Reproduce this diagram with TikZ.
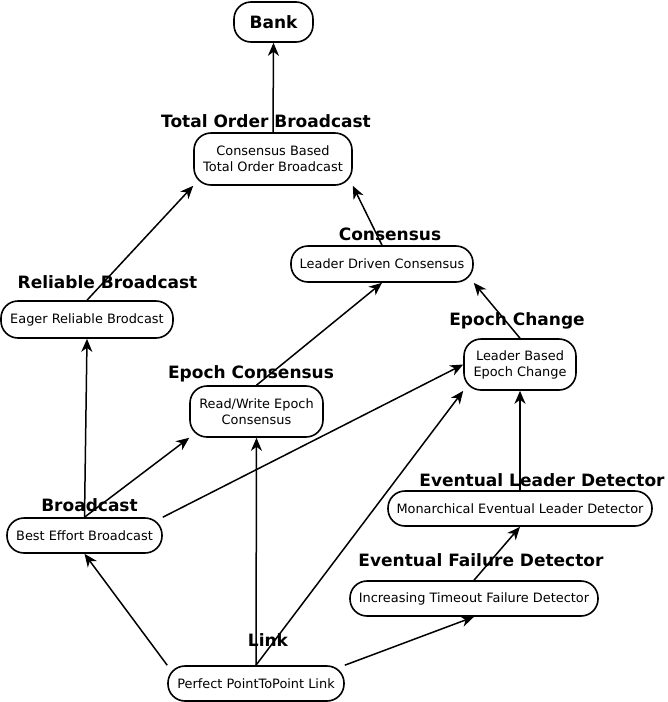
\documentclass[tikz,border=0pt]{standalone}
\usepackage{fontspec}
\setmainfont{DejaVu Sans}
\usetikzlibrary{arrows.meta}
\begin{document}
\begin{tikzpicture}[x=1pt,y=-1pt,
  box/.style={draw,line width=1.6pt,rounded corners=17pt,inner sep=0pt,align=center,
    font=\fontsize{12.9}{16}\selectfont},
  ttl/.style={inner sep=0pt,font=\fontsize{17}{20}\selectfont\bfseries},
  arr/.style={line width=1.5pt,-{Stealth[length=13pt,width=11pt,inset=4pt]}}]
\useasboundingbox (0,0) rectangle (668,702);
% nodes
\node[box,minimum width=79pt,minimum height=40pt,font=\fontsize{17}{20}\selectfont\bfseries] (bank) at (273.5,22) {Bank};
\node[box,minimum width=158pt,minimum height=52pt] (tob) at (273,159) {Consensus Based\\Total Order Broadcast};
\node[box,minimum width=182pt,minimum height=36pt] (ldc) at (382,264) {Leader Driven Consensus};
\node[box,minimum width=172pt,minimum height=37pt] (erb) at (87,319.5) {Eager Reliable Brodcast};
\node[box,minimum width=112pt,minimum height=51pt] (lbec) at (520,364.5) {Leader Based\\Epoch Change};
\node[box,minimum width=133pt,minimum height=51pt] (rwec) at (256.5,411.5) {Read/Write Epoch\\Consensus};
\node[box,minimum width=264pt,minimum height=35pt] (meld) at (520,508.5) {Monarchical Eventual Leader Detector};
\node[box,minimum width=155pt,minimum height=35pt] (beb) at (84.5,535.5) {Best Effort Broadcast};
\node[box,minimum width=248pt,minimum height=35pt] (itfd) at (474,598.5) {Increasing Timeout Failure Detector};
\node[box,minimum width=176pt,minimum height=35pt] (ppl) at (256,683.5) {Perfect PointToPoint Link};
% titles
\node[ttl] (ttob) at (266,121) {Total Order Broadcast};
\node[ttl] (tcons) at (390,234) {Consensus};
\node[ttl] (trb) at (107.5,282) {Reliable Broadcast};
\node[ttl] (tec) at (517,321) {Epoch Change};
\node[ttl] (tepc) at (251,374) {Epoch Consensus};
\node[ttl] (teld) at (542,480) {Eventual Leader Detector};
\node[ttl] (tb) at (89.5,505) {Broadcast};
\node[ttl] (tefd) at (481,560) {Eventual Failure Detector};
\node[ttl] (tlink) at (268,640) {Link};
% edges
\draw[arr] (tob.north) -- (bank.south);
\draw[arr] (erb.north) -- (tob.south west);
\draw[arr] (ldc.north) -- (tob.south east);
\draw[arr] (rwec.north) -- (ldc.south);
\draw[arr] (lbec.north) -- (ldc.south east);
\draw[arr] (beb.north) -- (erb.south);
\draw[arr] (beb.north) -- (rwec.south west);
\draw[arr] (beb.north east) -- (lbec.west);
\draw[arr] (ppl.north west) -- (beb.south);
\draw[arr] (ppl.north) -- (rwec.south);
\draw[arr] (ppl.north) -- (lbec.south west);
\draw[arr] (ppl.north east) -- (itfd.south);
\draw[arr] (itfd.north) -- (meld.south);
\draw[arr] (meld.north) -- (lbec.south);
\end{tikzpicture}
\end{document}
